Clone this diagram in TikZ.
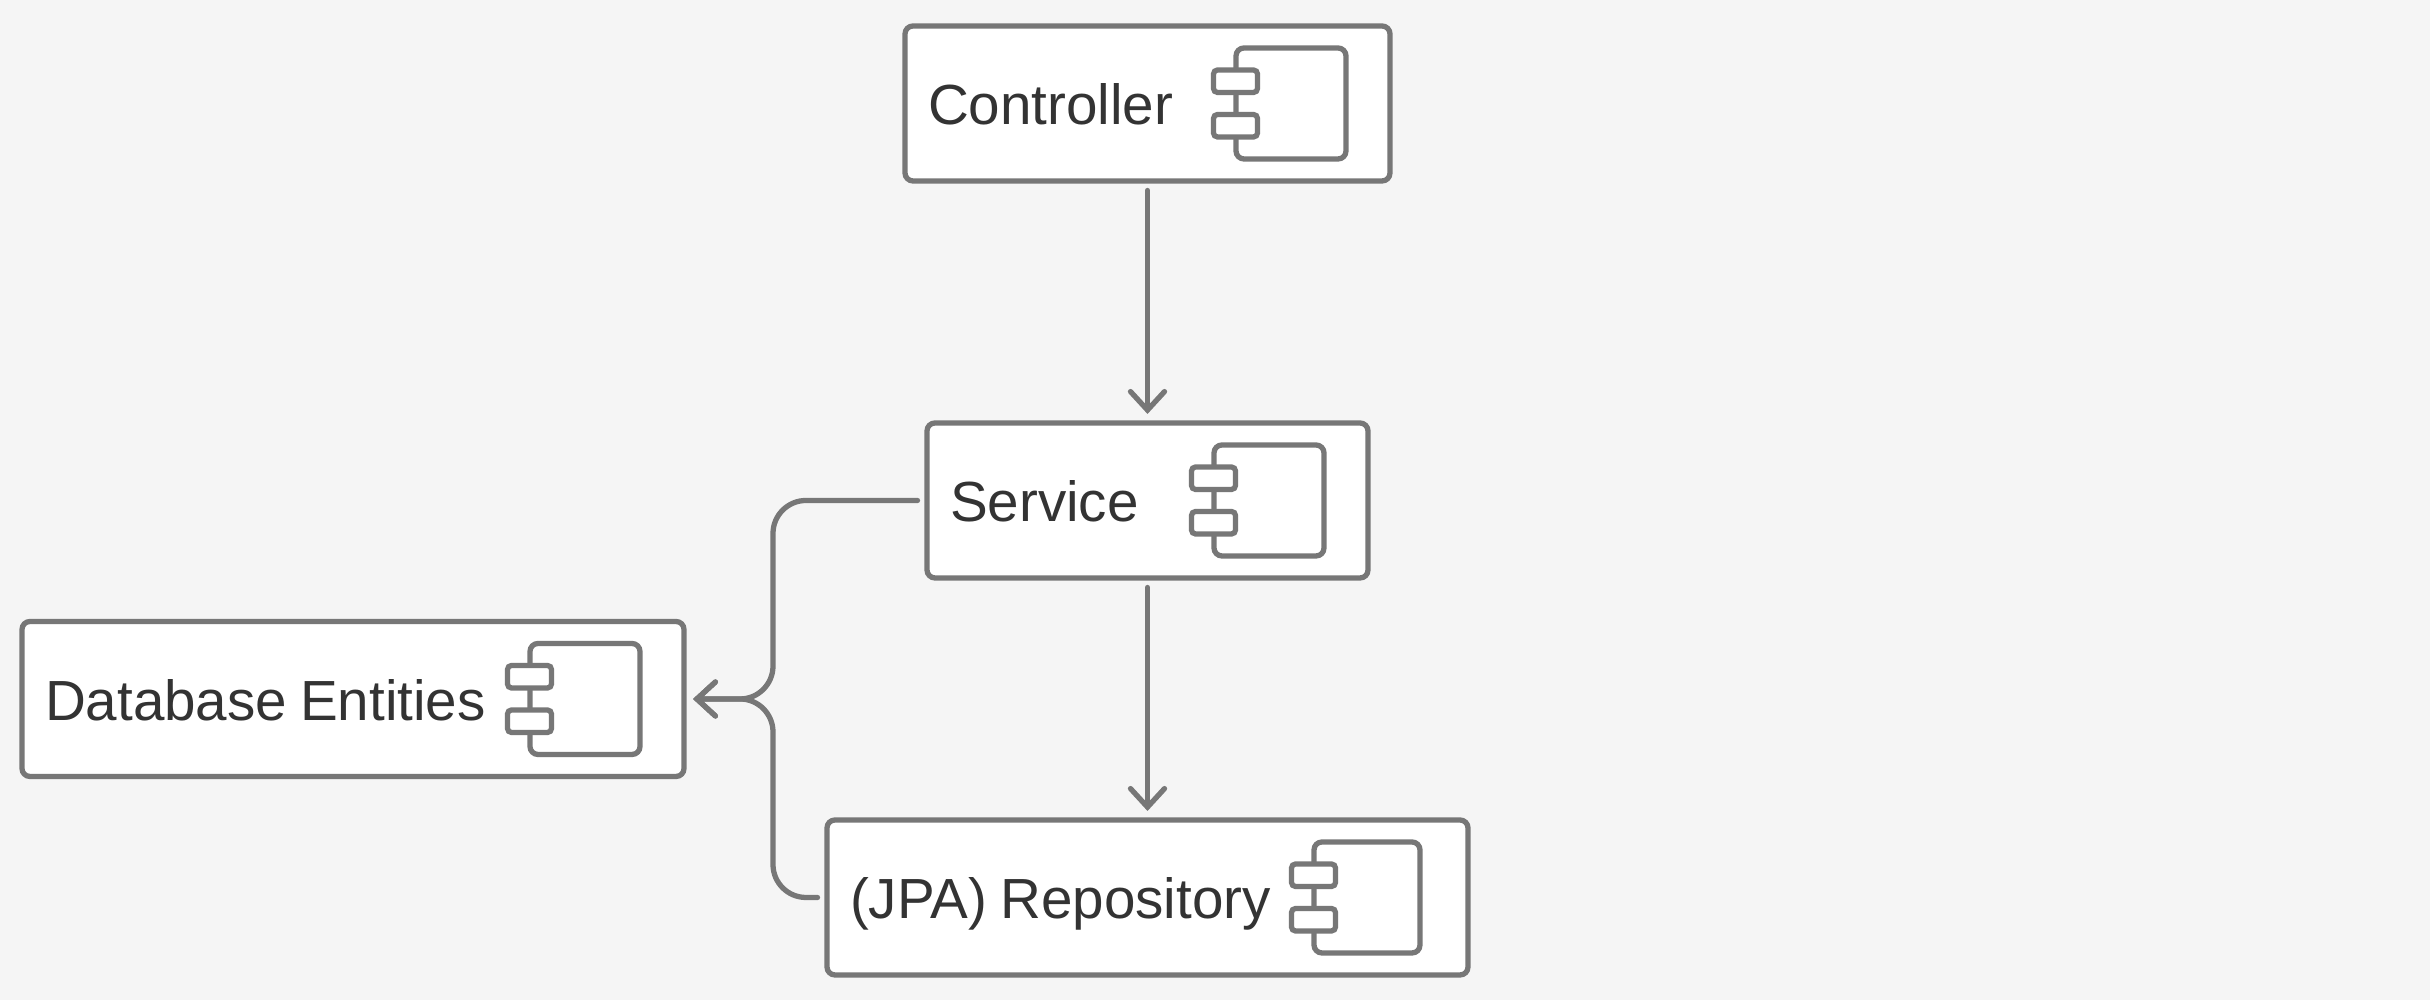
\documentclass[tikz,border=0pt]{standalone}
\usepackage{fontspec}
\setmainfont{Liberation Sans}
\usetikzlibrary{positioning,arrows.meta}
\definecolor{pagebg}{HTML}{F5F5F5}
\definecolor{edgegray}{HTML}{777777}
\definecolor{ink}{HTML}{333333}
\tikzset{
  compbox/.style={draw=edgegray, fill=white, line width=1.5pt, rounded corners=0.08cm, text=ink,
    minimum height=1.55cm, inner xsep=0.23cm, inner ysep=0pt, outer sep=0pt, align=left, text width=#1,
    text height=0.6cm, text depth=0.17cm, execute at begin node={\spaceskip=0.23em\relax}},
  link/.style={draw=edgegray, line width=1.5pt, line cap=round, rounded corners=0.33cm,
    shorten <=0.095cm, shorten >=0.09cm,
    -{Straight Barb[length=0.185cm, width=0.34cm, line cap=round]}},
  compicon/.pic={
    \draw[draw=edgegray, line width=1.5pt, fill=white, rounded corners=0.08cm] (-1.54,-0.555) rectangle (#1,0.555);
    \draw[draw=edgegray, line width=1.5pt, fill=white, rounded corners=0.04cm] (-1.765,0.11) rectangle (-1.325,0.335);
    \draw[draw=edgegray, line width=1.5pt, fill=white, rounded corners=0.04cm] (-1.765,-0.335) rectangle (-1.325,-0.11);
  }
}
\begin{document}
\begin{tikzpicture}[font=\fontsize{16.1pt}{20pt}\selectfont]
  \fill[pagebg] (0,0) rectangle (24.3,10);
  \useasboundingbox (0,0) rectangle (24.3,10);
  \node[compbox=4.39cm] (ctrl) at (11.475,8.965) {Controller};
  \node[compbox=3.95cm] (srv) at (11.475,4.995) {Service};
  \node[compbox=5.95cm] (repo) at (11.475,1.025) {(JPA) Repository};
  \node[compbox=6.16cm] (db) at (3.53,3.01) {Database Entities};
  \pic at (ctrl.east) {compicon=-0.44};
  \pic at (srv.east) {compicon=-0.44};
  \pic at (repo.east) {compicon=-0.48};
  \pic at (db.east) {compicon=-0.44};
  \coordinate (bus) at (7.73,3.01);
  \draw[link] (ctrl) -- (srv);
  \draw[link] (srv) -- (repo);
  \draw[link] (srv.west) -| (bus) -- (db.east);
  \draw[link] (repo.west) -| (bus) -- (db.east);
\end{tikzpicture}
\end{document}
